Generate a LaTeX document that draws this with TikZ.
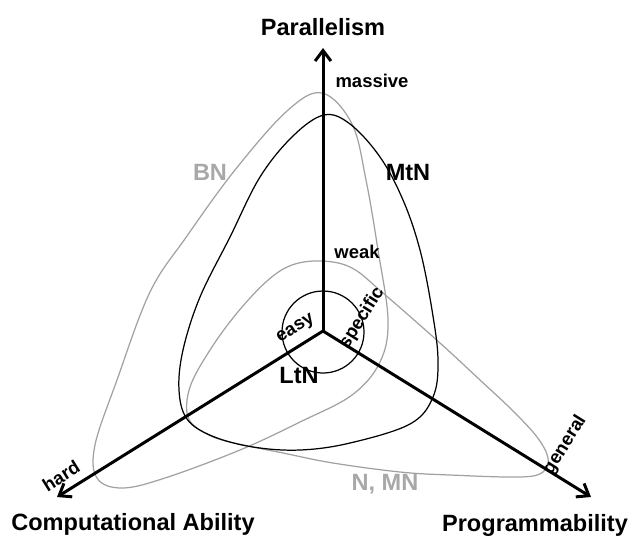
\documentclass[tikz,border=0pt]{standalone}
\usepackage{fontspec}
\setmainfont{Liberation Sans}
\usetikzlibrary{arrows.meta}
\definecolor{curvegray}{gray}{0.63}
\definecolor{labelgray}{gray}{0.66}

\begin{document}
\begin{tikzpicture}[x=0.02cm, y=-0.02cm,
    axis/.style={line width=1.7pt, -{Straight Barb[length=6pt, width=9pt]}},
    title/.style={font=\bfseries\fontsize{13.4}{16}\selectfont},
    tick/.style={font=\bfseries\fontsize{10.5}{12}\selectfont},
    curve/.style={line width=0.7pt}]
    \useasboundingbox (0,0) rectangle (631,538);

    % Drawing the regions
    % BN (gray, large)
    \draw[curve, curvegray] plot[smooth cycle, tension=0.6] coordinates {
        (322,93) (352,124) (366,180) (378,250) (388,320) (380,362)
        (352,395) (300,422) (240,450) (165,478) (122,488) (97,478)
        (95,445) (117,380) (150,292) (187,236) (235,170) (287,111)};
    % N, MN (gray, small)
    \draw[curve, curvegray] plot[smooth cycle, tension=0.6] coordinates {
        (322,261) (352,268) (383,293) (440,343) (480,380) (512,410)
        (537,437) (548,458) (543,472) (520,477) (450,475) (400,472)
        (333,463) (283,453) (230,442) (205,433) (188,417) (190,387)
        (210,350) (237,313) (267,281) (292,265)};
    % MtN (black)
    \draw[curve] plot[smooth cycle, tension=0.6] coordinates {
        (324,115) (350,124) (380,157) (403,200) (420,250) (432,310)
        (438,360) (433,397) (410,424) (350,443) (300,450) (253,447)
        (212,436) (187,419) (179,390) (183,350) (200,297) (230,237)
        (260,177) (293,136)};
    % LtN (circle)
    \draw[curve] (323,332) circle [radius=41];

    % Drawing the axes
    \coordinate (O) at (323,331);
    \coordinate (par) at (323,48);
    \coordinate (comp) at (57,497);
    \coordinate (prog) at (591,497);
    \draw[axis] (O) -- (par);
    \draw[axis] (O) -- (comp);
    \draw[axis] (O) -- (prog);

    % Axis titles
    \node[title, anchor=base] (partitle) at (323,35) {Parallelism};
    \node[title, anchor=base] (comptitle) at (133,530) {Computational Ability};
    \node[title, anchor=base] (progtitle) at (535,531) {Programmability};

    % Axis ends
    \node[tick, anchor=base] (massive) at (372,87) {massive};
    \node[tick, anchor=base] (weak) at (357,258) {weak};
    \node[tick, rotate=32] (easy) at (296,329) {easy};
    \node[tick, rotate=32] (hard) at (61,476) {hard};
    \node[tick, rotate=58] (specific) at (362,318) {specific};
    \node[tick, rotate=58] (general) at (565,445) {general};

    % Region labels
    \node[title, labelgray, anchor=base] (bn) at (210,180) {BN};
    \node[title, anchor=base] (mtn) at (408,180) {MtN};
    \node[title, anchor=base] (ltn) at (299,383) {LtN};
    \node[title, labelgray, anchor=base] (nmn) at (385,490) {N, MN};
\end{tikzpicture}
\end{document}
